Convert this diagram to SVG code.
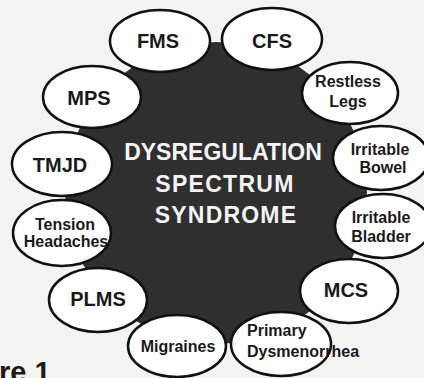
<svg xmlns="http://www.w3.org/2000/svg" width="424" height="378" viewBox="0 0 424 378">
<style>
.n ellipse{fill:#ffffff;stroke:#111;stroke-width:2.5}
.n text{font-family:"Liberation Sans",Arial,sans-serif;font-weight:bold;fill:#1a1a1a;text-anchor:middle}
.big{font-size:20px}
.sm{font-size:16px}
.c{font-family:"Liberation Sans",Arial,sans-serif;font-weight:bold;fill:#f4f4f4;font-size:23px;text-anchor:middle}
</style>
<rect width="424" height="378" fill="#f3f3f1"/>
<g id="center">
<circle cx="216" cy="193" r="151" fill="#2f2f2f"/>
<text class="c" x="223" y="160">DYSREGULATION</text>
<text class="c" x="225" y="192" letter-spacing="1.3">SPECTRUM</text>
<text class="c" x="226" y="223" letter-spacing="1.2">SYNDROME</text>
</g>
<g id="connectors"></g>
<g id="fms" class="n"><ellipse cx="160" cy="41" rx="50" ry="31"/><text class="big" x="158" y="48">FMS</text></g>
<g id="cfs" class="n"><ellipse cx="272" cy="39" rx="50" ry="31"/><text class="big" x="272" y="48">CFS</text></g>
<g id="mps" class="n"><ellipse cx="92" cy="97" rx="49" ry="31"/><text class="big" x="89" y="105">MPS</text></g>
<g id="tmjd" class="n"><ellipse cx="62" cy="164" rx="50" ry="32"/><text class="big" x="60" y="172">TMJD</text></g>
<g id="tension" class="n"><ellipse cx="62" cy="233" rx="49" ry="33"/><text class="sm" x="65" y="230">Tension</text><text class="sm" x="66" y="247">Headaches</text></g>
<g id="plms" class="n"><ellipse cx="98" cy="300" rx="49" ry="32"/><text class="big" x="98" y="306" font-size="21">PLMS</text></g>
<g id="migraines" class="n"><ellipse cx="177" cy="346" rx="49" ry="31"/><text class="sm" x="178" y="352">Migraines</text></g>
<g id="dysmenorrhea" class="n"><ellipse cx="281" cy="344" rx="50" ry="32"/><text class="sm" x="247" y="336" style="text-anchor:start">Primary</text><text class="sm" x="247" y="357" style="text-anchor:start">Dysmenorrhea</text></g>
<g id="mcs" class="n"><ellipse cx="349" cy="291" rx="49" ry="32"/><text class="big" x="346" y="297" font-size="21">MCS</text></g>
<g id="bladder" class="n"><ellipse cx="383" cy="226" rx="48" ry="32"/><text class="sm" x="381" y="223">Irritable</text><text class="sm" x="381" y="242">Bladder</text></g>
<g id="bowel" class="n"><ellipse cx="381" cy="158" rx="48" ry="32"/><text class="sm" x="380" y="155">Irritable</text><text class="sm" x="383" y="173">Bowel</text></g>
<g id="restless" class="n"><ellipse cx="350" cy="93" rx="48" ry="31"/><text class="sm" x="348" y="87">Restless</text><text class="sm" x="348" y="107">Legs</text></g>
<text x="-1" y="382" font-family="Liberation Sans,Arial,sans-serif" font-weight="bold" font-size="29" fill="#1a1a1a">re 1</text>
</svg>
